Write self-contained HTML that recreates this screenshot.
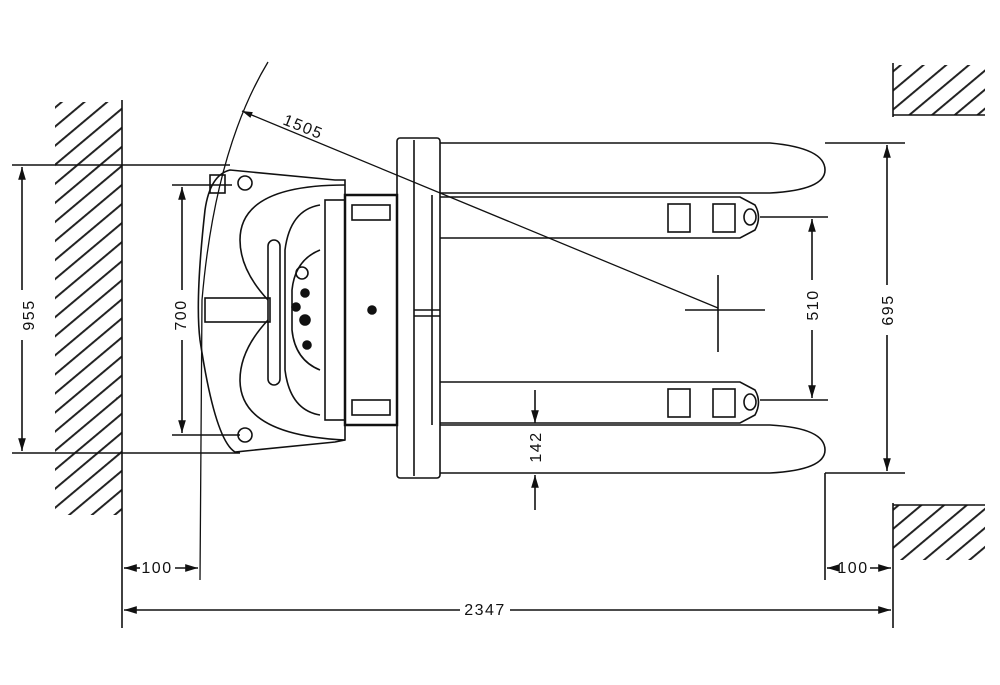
<!DOCTYPE html>
<html><head><meta charset="utf-8"><style>
html,body{margin:0;padding:0;background:#fff;}
svg{display:block}
text{font-family:"Liberation Sans",sans-serif;font-size:16px;fill:#111;letter-spacing:1.5px}
</style></head><body>
<svg width="1000" height="685" viewBox="0 0 1000 685" xmlns="http://www.w3.org/2000/svg">
<defs>
<pattern id="h" width="20" height="14.6" patternUnits="userSpaceOnUse" patternTransform="rotate(-40)">
<rect width="20" height="14.6" fill="#fff"/><rect x="0" y="0" width="20" height="2" fill="#222"/>
</pattern>
<marker id="a" viewBox="0 0 10 10" refX="10" refY="5" markerWidth="10" markerHeight="8" orient="auto-start-reverse"><path d="M0,2 L10,5 L0,8z" fill="#111"/></marker>
</defs>
<g stroke="#111" fill="none" stroke-width="1.6">
<!-- walls -->
<rect x="55" y="102" width="67" height="413" fill="url(#h)" stroke="none"/>
<line x1="122" y1="100" x2="122" y2="628"/>
<rect x="893" y="65" width="92" height="50" fill="url(#h)" stroke="none"/>
<line x1="893" y1="63" x2="893" y2="117"/><line x1="893" y1="115" x2="985" y2="115"/>
<rect x="893" y="505" width="92" height="55" fill="url(#h)" stroke="none"/>
<line x1="893" y1="503" x2="893" y2="628"/><line x1="893" y1="505" x2="985" y2="505"/>

<!-- outer forks -->
<path d="M440,143 H770 Q825,148 825,170 Q825,190 770,193 H440"/>
<path d="M440,425 H770 Q825,428 825,450 Q825,470 770,473 H440"/>
<!-- inner forks -->
<path d="M440,197 H740 L755,205 Q762,217 755,230 L740,238 H440"/>
<path d="M440,382 H740 L755,390 Q762,402 755,415 L740,423 H440"/>
<rect x="668" y="204" width="22" height="28"/><rect x="713" y="204" width="22" height="28"/>
<rect x="668" y="389" width="22" height="28"/><rect x="713" y="389" width="22" height="28"/>
<ellipse cx="750" cy="217" rx="6" ry="8"/><ellipse cx="750" cy="402" rx="6" ry="8"/>

<!-- mast -->
<rect x="397" y="138" width="43" height="340" rx="3"/>
<line x1="414" y1="140" x2="414" y2="476"/><line x1="432" y1="195" x2="432" y2="425"/>
<line x1="414" y1="310" x2="440" y2="310"/><line x1="414" y1="316" x2="440" y2="316"/>
<!-- battery -->
<rect x="345" y="195" width="52" height="230" stroke-width="2.5"/>
<rect x="352" y="205" width="38" height="15"/><rect x="352" y="400" width="38" height="15"/>
<circle cx="372" cy="310" r="4" fill="#111"/>
<!-- body -->
<path d="M230,170 L335,180 H345 V440 L335,442 L235,452 Q215,440 200,340 Q195,300 205,210 Q210,175 230,170z"/>
<rect x="325" y="200" width="20" height="220"/>
<path d="M345,185 Q240,185 240,240 Q240,270 268,300"/>
<path d="M345,440 Q240,435 240,380 Q240,350 268,320"/>
<path d="M320,205 Q290,210 285,250 V370 Q290,410 320,415"/>
<path d="M320,250 Q295,260 292,290 V330 Q295,360 320,370"/>
<rect x="268" y="240" width="12" height="145" rx="6"/>
<rect x="205" y="298" width="65" height="24"/>
<circle cx="302" cy="273" r="6"/><circle cx="305" cy="293" r="4" fill="#111"/>
<circle cx="305" cy="320" r="5" fill="#111"/><circle cx="307" cy="345" r="4" fill="#111"/>
<circle cx="296" cy="307" r="4" fill="#111"/>
<circle cx="245" cy="183" r="7"/><circle cx="245" cy="435" r="7"/>
<rect x="210" y="175" width="15" height="18"/>

<!-- 1505 -->
<line x1="718" y1="308" x2="242" y2="111" stroke-width="1.3" marker-end="url(#a)"/>
<path d="M268,62 Q215,150 202,300 L200,580" stroke-width="1.3"/>
<line x1="685" y1="310" x2="765" y2="310"/><line x1="718" y1="275" x2="718" y2="352"/>
</g>
<text x="282" y="124" transform="rotate(22 282 124)">1505</text>
<g stroke="#111" fill="none" stroke-width="1.6">
<!-- 955 -->
<line x1="12" y1="165" x2="230" y2="165"/><line x1="12" y1="453" x2="240" y2="453"/>
<line x1="22" y1="167" x2="22" y2="290" marker-start="url(#a)"/>
<line x1="22" y1="340" x2="22" y2="451" marker-end="url(#a)"/>
<!-- 700 -->
<line x1="172" y1="185" x2="232" y2="185"/><line x1="172" y1="435" x2="240" y2="435"/>
<line x1="182" y1="187" x2="182" y2="290" marker-start="url(#a)"/>
<line x1="182" y1="340" x2="182" y2="433" marker-end="url(#a)"/>
<!-- 695 -->
<line x1="825" y1="143" x2="905" y2="143"/><line x1="825" y1="473" x2="905" y2="473"/>
<line x1="887" y1="145" x2="887" y2="285" marker-start="url(#a)"/>
<line x1="887" y1="335" x2="887" y2="471" marker-end="url(#a)"/>
<!-- 510 -->
<line x1="760" y1="217" x2="828" y2="217"/><line x1="760" y1="400" x2="828" y2="400"/>
<line x1="812" y1="219" x2="812" y2="280" marker-start="url(#a)"/>
<line x1="812" y1="330" x2="812" y2="398" marker-end="url(#a)"/>
<!-- 142 -->
<line x1="535" y1="390" x2="535" y2="423" marker-end="url(#a)"/>
<line x1="535" y1="475" x2="535" y2="510" marker-start="url(#a)"/>
<!-- 100 left -->
<line x1="124" y1="568" x2="140" y2="568" marker-start="url(#a)"/>
<line x1="175" y1="568" x2="198" y2="568" marker-end="url(#a)"/>
<!-- 100 right -->
<line x1="825" y1="473" x2="825" y2="580"/>
<line x1="827" y1="568" x2="835" y2="568" marker-start="url(#a)"/>
<line x1="870" y1="568" x2="891" y2="568" marker-end="url(#a)"/>
<!-- 2347 -->
<line x1="124" y1="610" x2="460" y2="610" marker-start="url(#a)"/>
<line x1="510" y1="610" x2="891" y2="610" marker-end="url(#a)"/>
</g>
<text transform="translate(30 315) rotate(-90)" text-anchor="middle" dominant-baseline="middle">955</text>
<text transform="translate(182 315) rotate(-90)" text-anchor="middle" dominant-baseline="middle">700</text>
<text transform="translate(889 310) rotate(-90)" text-anchor="middle" dominant-baseline="middle">695</text>
<text transform="translate(814 305) rotate(-90)" text-anchor="middle" dominant-baseline="middle">510</text>
<text transform="translate(537 447) rotate(-90)" text-anchor="middle" dominant-baseline="middle">142</text>
<text x="157" y="573" text-anchor="middle">100</text>
<text x="853" y="573" text-anchor="middle">100</text>
<text x="485" y="615" text-anchor="middle">2347</text>
</svg>
</body></html>
